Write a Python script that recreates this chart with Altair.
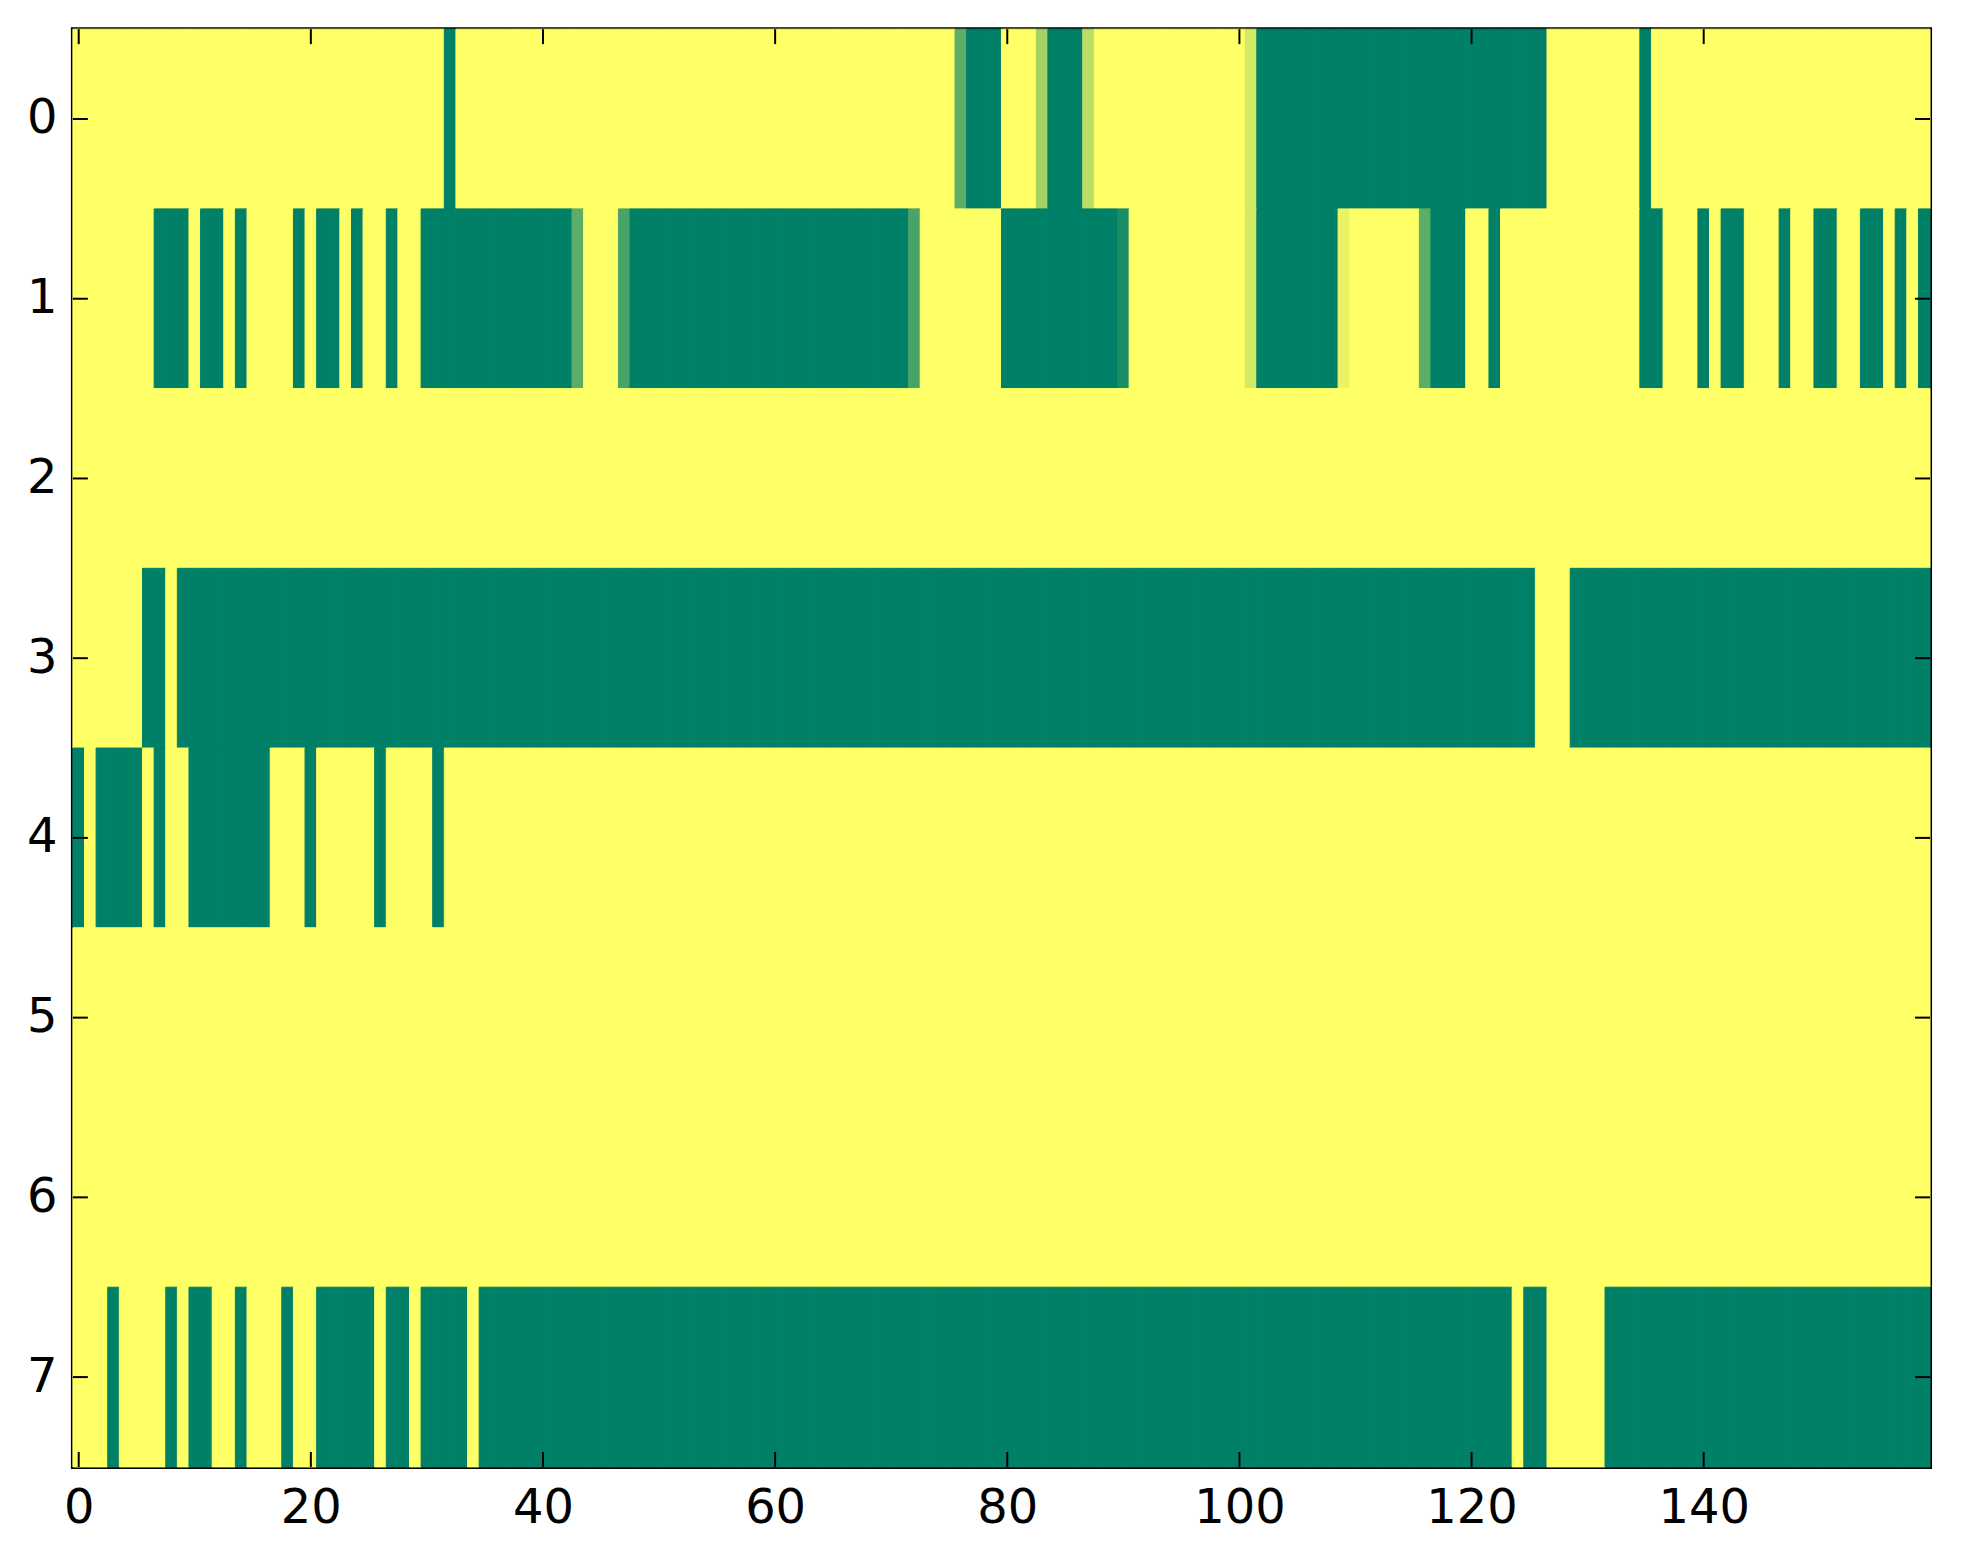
import altair as alt
import pandas as pd

# ---- data: 8 rows x 160 columns, value 1 = yellow, 0 = green ----
n_cols = 160
row_labels = [0, 1, 2, 3, 4, 5, 6, 7]
x_tick_values = [0, 20, 40, 60, 80, 100, 120, 140]
y_tick_values = [0, 1, 2, 3, 4, 5, 6, 7]

# green (value 0) runs per row, inclusive column ranges
green_runs = {
    0: [(32, 32), (77, 79), (84, 86), (102, 126), (135, 135)],
    1: [(7, 9), (11, 12), (14, 14), (19, 19), (21, 22), (24, 24), (27, 27),
        (30, 42), (48, 71), (80, 89), (102, 108), (117, 119), (122, 122),
        (135, 136), (140, 140), (142, 143), (147, 147), (150, 151),
        (154, 155), (157, 157), (159, 159)],
    2: [],
    3: [(6, 7), (9, 125), (129, 159)],
    4: [(0, 0), (2, 5), (7, 7), (10, 16), (20, 20), (26, 26), (31, 31)],
    5: [],
    6: [],
    7: [(3, 3), (8, 8), (10, 11), (14, 14), (18, 18), (21, 25), (27, 28),
        (30, 33), (35, 123), (125, 126), (132, 159)],
}

# intermediate cells: column -> value
mid_values = {
    0: {76: 0.36, 83: 0.64, 87: 0.73, 101: 0.83},
    1: {43: 0.36, 47: 0.28, 72: 0.28, 90: 0.10, 101: 0.83, 109: 0.91, 116: 0.36},
}

records = []
for r in row_labels:
    vals = [1.0] * n_cols
    for a, b in green_runs[r]:
        for c in range(a, b + 1):
            vals[c] = 0.0
    for c, v in mid_values.get(r, {}).items():
        vals[c] = v
    for c, v in enumerate(vals):
        records.append({"col": c, "row": r, "x0": c - 0.5, "x1": c + 0.5,
                        "y0": r - 0.5, "y1": r + 0.5, "v": v})
df = pd.DataFrame(records)

W, H = 1860, 1440
TICK = 15

xscale = alt.Scale(domain=[-0.5, 159.5], nice=False, zero=False)
yscale = alt.Scale(domain=[-0.5, 7.5], nice=False, zero=False, reverse=True)
cscale = alt.Scale(domain=[0, 1], range=["#008066", "#ffff66"], interpolate="rgb")

xaxis = alt.Axis(values=x_tick_values, title=None, ticks=False, domain=False,
                 grid=False, labelFontSize=48, labelFont="DejaVu Sans",
                 labelColor="black", labelPadding=18, labelFlush=False,
                 format="d")
yaxis = alt.Axis(values=y_tick_values, title=None, ticks=False, domain=False,
                 grid=False, labelFontSize=48, labelFont="DejaVu Sans",
                 labelColor="black", labelPadding=16, format="d")

heat = alt.Chart(df).mark_rect(strokeWidth=1).encode(
    x=alt.X("x0:Q", scale=xscale, axis=xaxis),
    x2="x1:Q",
    y=alt.Y("y0:Q", scale=yscale, axis=yaxis),
    y2="y1:Q",
    color=alt.Color("v:Q", scale=cscale, legend=None),
    stroke=alt.Stroke("v:Q", scale=cscale, legend=None),
)

xt = pd.DataFrame({"t": x_tick_values})
yt = pd.DataFrame({"t": y_tick_values})

tick_style = dict(color="black", strokeWidth=2)
xb = alt.Chart(xt).mark_rule(**tick_style).encode(
    x=alt.X("t:Q", scale=xscale), y=alt.value(H), y2=alt.value(H - TICK))
xtp = alt.Chart(xt).mark_rule(**tick_style).encode(
    x=alt.X("t:Q", scale=xscale), y=alt.value(0), y2=alt.value(TICK))
yl = alt.Chart(yt).mark_rule(**tick_style).encode(
    y=alt.Y("t:Q", scale=yscale), x=alt.value(0), x2=alt.value(TICK))
yr = alt.Chart(yt).mark_rule(**tick_style).encode(
    y=alt.Y("t:Q", scale=yscale), x=alt.value(W), x2=alt.value(W - TICK))

chart = alt.layer(heat, xb, xtp, yl, yr).properties(
    width=W, height=H,
    autosize=alt.AutoSizeParams(type="none"),
    padding={"left": 65, "top": 20, "right": 25, "bottom": 80},
    background="white",
).configure_view(stroke="black", strokeWidth=4)

chart.save("out.html", embed_options={"renderer": "svg", "actions": False})
